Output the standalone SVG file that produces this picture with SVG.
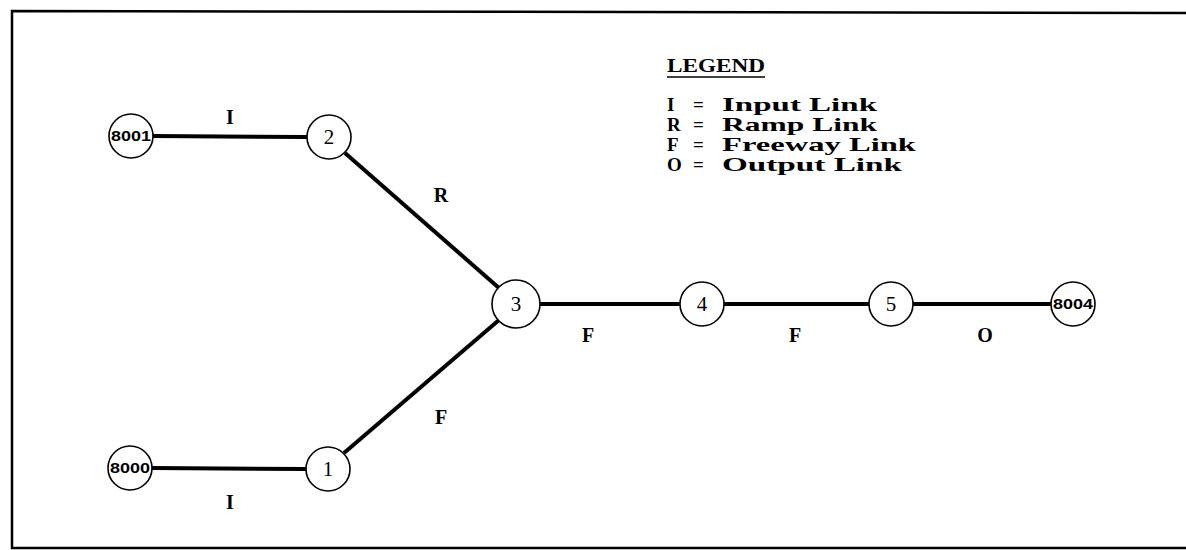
<svg xmlns="http://www.w3.org/2000/svg" width="1186" height="550" viewBox="0 0 1186 550">
<style>
.node circle{fill:#fff;stroke:#000;stroke-width:1.6}
.num{font-family:"Liberation Serif",serif;font-size:21px;text-anchor:middle;fill:#000}
.id{font-family:"Liberation Sans",sans-serif;font-size:15px;font-weight:bold;text-anchor:middle;fill:#000}
.lbl{font-family:"Liberation Serif",serif;font-size:20px;font-weight:bold;text-anchor:middle;fill:#000}
.leg{font-family:"Liberation Serif",serif;font-size:19px;font-weight:bold;fill:#000}
.link{stroke:#000;stroke-width:4;fill:none}
</style>
<rect x="0" y="0" width="1186" height="550" fill="#fff"/>
<g id="frame" fill="none" stroke="#000" stroke-width="2.5">
<path d="M1186 13 L12 11 L12 548 L1186 548"/>
</g>
<g id="connectors">
<line class="link" x1="153" y1="136" x2="307" y2="137"/>
<line class="link" x1="345" y1="153" x2="499" y2="288"/>
<line class="link" x1="152" y1="468" x2="306" y2="469"/>
<line class="link" x1="344" y1="453" x2="499" y2="320"/>
<line class="link" x1="540" y1="304" x2="680" y2="304"/>
<line class="link" x1="724" y1="304" x2="869" y2="304"/>
<line class="link" x1="913" y1="304" x2="1051" y2="304"/>
</g>
<g id="n8001" class="node"><circle cx="131" cy="136" r="22"/><text class="id" x="131" y="141" textLength="40" lengthAdjust="spacingAndGlyphs">8001</text></g>
<g id="n2" class="node"><circle cx="329" cy="137" r="22"/><text class="num" x="329" y="144">2</text></g>
<g id="n8000" class="node"><circle cx="130" cy="468" r="22"/><text class="id" x="130" y="473" textLength="40" lengthAdjust="spacingAndGlyphs">8000</text></g>
<g id="n1" class="node"><circle cx="328" cy="469" r="22"/><text class="num" x="328" y="476">1</text></g>
<g id="n3" class="node"><circle cx="516" cy="304" r="24"/><text class="num" x="516" y="311">3</text></g>
<g id="n4" class="node"><circle cx="702" cy="304" r="22"/><text class="num" x="702" y="311">4</text></g>
<g id="n5" class="node"><circle cx="891" cy="304" r="22"/><text class="num" x="891" y="311">5</text></g>
<g id="n8004" class="node"><circle cx="1073" cy="304" r="22"/><text class="id" x="1073" y="309" textLength="40" lengthAdjust="spacingAndGlyphs">8004</text></g>
<g id="edge-labels">
<text class="lbl" x="230" y="124">I</text>
<text class="lbl" x="441" y="202">R</text>
<text class="lbl" x="441" y="424">F</text>
<text class="lbl" x="588" y="342">F</text>
<text class="lbl" x="795" y="342">F</text>
<text class="lbl" x="985" y="342">O</text>
<text class="lbl" x="230" y="509">I</text>
</g>
<g id="legend">
<text class="leg" x="667" y="72" textLength="98" lengthAdjust="spacingAndGlyphs">LEGEND</text>
<line x1="667" y1="77" x2="765" y2="77" stroke="#000" stroke-width="1.5"/>
<text class="leg" x="667" y="111">I</text><text class="leg" x="693" y="111">=</text><text class="leg" x="722" y="111" textLength="155" lengthAdjust="spacingAndGlyphs">Input Link</text>
<text class="leg" x="667" y="131">R</text><text class="leg" x="693" y="131">=</text><text class="leg" x="722" y="131" textLength="155" lengthAdjust="spacingAndGlyphs">Ramp Link</text>
<text class="leg" x="667" y="151">F</text><text class="leg" x="693" y="151">=</text><text class="leg" x="722" y="151" textLength="194" lengthAdjust="spacingAndGlyphs">Freeway Link</text>
<text class="leg" x="667" y="171">O</text><text class="leg" x="693" y="171">=</text><text class="leg" x="722" y="171" textLength="180" lengthAdjust="spacingAndGlyphs">Output Link</text>
</g>
</svg>
